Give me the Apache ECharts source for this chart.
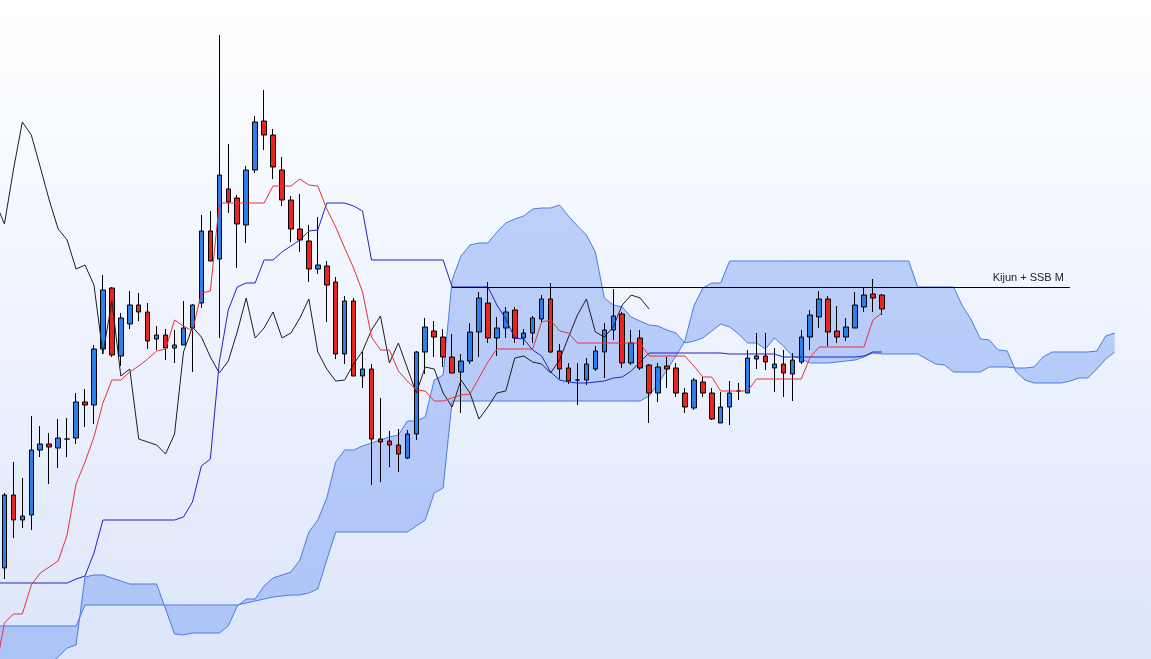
<!DOCTYPE html>
<html><head><meta charset="utf-8">
<script src="https://cdn.jsdelivr.net/npm/echarts@6/dist/echarts.min.js"></script>
<style>html,body{margin:0;padding:0;width:1151px;height:659px;overflow:hidden;background:#eef3fe;position:relative}#c{position:absolute;left:-9px;top:0;width:1160px;height:659px}</style>
</head><body><div id="c"></div>
<script>
// ---- data (index -1 is an off-screen leading period) ----
// candles for periods 0..98 : [open, close, low, high]
const candles = [
[13.2,20.5,12.1,20.7],[20.5,18.0,16.2,23.8],[18.0,18.4,17.2,22.2],[18.5,25.0,17.0,28.4],[25.0,25.6,24.3,27.4],
[25.6,25.3,21.6,26.7],[25.2,26.2,23.2,28.1],[26.1,26.1,24.3,28.2],[26.2,29.8,25.6,30.7],[29.8,29.5,27.3,31.1],
[29.5,35.1,27.6,35.5],[35.1,41.0,34.6,42.5],[41.2,34.5,34.3,41.3],[34.4,38.2,33.4,38.7],[37.6,39.5,37.1,40.9],
[39.5,38.8,37.9,40.7],[38.8,35.9,35.1,39.7],[36.1,36.5,35.0,37.4],[36.5,35.2,34.0,37.1],[35.2,35.5,33.7,37.0],
[35.5,37.2,35.5,39.9],[37.2,39.5,32.8,39.6],[39.7,46.9,39.2,48.5],[46.9,43.9,43.9,48.9],[44.1,52.5,36.2,66.5],
[51.1,49.8,48.7,55.6],[50.2,47.6,43.2,50.5],[47.5,53.0,45.7,53.4],[53.0,57.8,52.7,58.4],[57.9,56.5,55.0,61.0],
[56.5,53.3,52.1,57.1],[53.0,50.0,49.4,54.3],[50.0,47.1,45.8,50.4],[47.1,46.0,44.8,50.6],[45.9,43.1,41.8,47.5],
[43.1,43.5,42.6,48.3],[43.4,41.5,37.8,43.9],[41.8,34.6,34.1,42.3],[34.6,39.9,33.6,40.4],[39.9,32.4,32.4,40.2],
[32.4,33.1,31.2,34.8],[33.1,26.1,21.5,33.6],[26.1,25.8,21.8,30.2],[25.9,25.5,23.3,26.9],[25.5,24.6,22.8,27.1],
[24.2,26.6,24.1,27.0],[26.6,34.8,26.0,34.9],[34.8,37.3,32.6,38.2],[36.9,36.3,34.3,37.9],[36.3,34.3,33.3,37.1],
[34.3,32.7,32.7,36.6],[32.8,33.9,28.7,34.6],[33.9,36.8,33.6,37.7],[36.8,40.2,34.3,40.8],[39.7,36.2,35.7,41.8],
[36.2,37.2,34.4,38.3],[37.2,38.8,36.2,39.3],[39.0,36.2,35.7,39.3],[36.2,36.7,35.5,37.1],[36.7,38.2,35.7,38.4],
[38.1,40.1,37.7,40.5],[40.1,34.8,34.7,41.7],[34.9,33.1,32.1,35.6],[33.2,31.9,31.6,33.7],[32.0,32.0,29.5,33.7],
[32.0,33.6,31.5,34.2],[33.1,34.9,32.9,35.4],[34.8,37.0,32.2,37.7],[37.0,38.4,36.0,41.1],[38.6,33.7,33.2,38.8],
[33.7,35.7,33.5,37.0],[36.2,33.2,33.0,37.0],[33.5,30.7,27.7,33.6],[30.7,33.3,29.8,33.7],[33.4,33.1,31.2,34.3],
[33.2,30.7,30.3,33.7],[30.7,29.3,28.7,31.2],[29.2,32.0,29.0,32.2],[31.8,30.7,30.3,32.3],[30.7,28.1,28.0,31.2],
[27.7,29.3,27.7,30.8],[29.3,30.7,27.5,31.9],[30.9,30.9,30.0,31.7],[30.7,34.2,30.7,35.0],[34.1,34.4,33.1,36.7],
[34.4,33.8,33.0,36.7],[33.2,33.6,30.8,35.2],[33.6,32.7,30.3,35.0],[32.6,34.0,29.9,34.7],[33.8,36.3,33.6,37.0],
[36.3,38.5,35.0,39.0],[38.3,40.1,37.2,40.9],[40.1,36.8,35.4,40.4],[36.9,36.3,35.7,39.4],[36.3,37.3,35.9,38.2],
[37.2,39.5,37.2,40.8],[39.3,40.5,38.8,41.2],[40.6,40.2,38.8,42.1],[40.5,39.1,38.5,40.6]
];
// Tenkan-sen, periods -1..98
const tenkan = [
2.9,7.7,8.6,8.6,11.5,12.7,13.3,13.9,16.5,21.6,
23.8,26.3,29.7,32.0,32.0,32.8,33.4,34.1,34.9,35.1,
38.0,37.4,36.9,40.7,40.9,49.7,49.7,49.7,49.7,49.7,
49.7,51.4,51.4,51.4,52.1,51.5,51.4,49.1,47.3,45.2,
43.2,40.8,36.3,35.0,35.0,32.9,31.9,31.0,30.9,29.9,
29.9,30.2,30.5,30.6,32.2,33.8,35.1,35.1,35.1,35.1,
35.1,37.8,38.0,36.9,36.7,35.7,35.7,35.7,35.7,35.7,
35.7,35.7,35.7,34.4,34.4,34.4,34.4,34.4,33.4,32.3,
32.3,30.9,30.9,30.9,30.9,32.1,32.1,32.1,32.1,32.1,
32.1,34.3,35.3,35.3,35.3,35.3,35.3,35.3,38.0,38.7
];
// Kijun-sen, periods -1..98
const kijun = [
11.7,11.7,11.7,11.7,11.7,11.7,11.7,11.7,11.7,12.1,
12.4,14.7,18.0,18.0,18.0,18.0,18.0,18.0,18.0,18.0,
18.0,18.3,19.8,23.4,24.1,33.8,39.0,41.3,41.7,41.7,
44.0,44.0,44.8,45.4,46.0,46.9,47.0,49.7,49.7,49.7,
49.4,48.9,44.0,44.0,44.0,44.0,44.0,44.0,44.0,44.0,
44.0,41.3,41.3,41.3,41.3,41.3,39.5,38.1,36.2,36.1,
35.0,34.4,32.8,32.0,31.8,31.7,31.7,31.8,31.9,32.2,
32.3,32.9,33.8,34.7,34.7,34.7,34.7,34.7,34.7,34.7,
34.7,34.7,34.6,34.6,34.6,34.6,34.6,34.6,34.3,34.3,
34.3,34.3,34.3,34.3,34.3,34.3,34.3,34.4,34.8,34.8
];
// Chikou span, periods -1..72
const chikou = [
49.8,47.6,53.0,57.8,56.5,53.3,50.0,47.1,46.0,43.1,
43.5,41.5,34.6,39.9,32.4,33.1,26.1,25.8,25.5,24.6,
26.6,34.8,37.3,36.3,34.3,32.7,33.9,36.8,40.2,36.2,
37.2,38.8,36.2,36.7,38.2,40.1,34.8,33.1,31.9,32.0,
33.6,34.9,37.0,38.4,33.7,35.7,33.2,30.7,33.3,33.1,
30.7,29.3,32.0,30.7,28.1,29.3,30.7,30.9,34.2,34.4,
33.8,33.6,32.7,34.0,36.3,38.5,40.1,36.8,36.3,37.3,
39.5,40.5,40.2,39.1
];
// Senkou span A, periods -1..124
const senkouA = [
2.2,2.4,2.6,2.8,3.0,3.2,3.6,4.3,5.2,5.5,
12.3,12.5,12.5,12.2,11.9,11.6,11.6,11.6,11.6,9.1,
6.6,6.5,6.7,6.7,6.7,6.7,7.4,9.4,10.1,10.1,
11.4,12.2,12.5,12.8,14.0,16.8,18.0,20.2,23.8,25.0,
25.0,25.4,25.7,26.0,26.3,26.5,27.9,27.9,28.3,32.0,
32.5,42.0,44.4,45.5,45.7,45.7,46.8,47.7,48.1,48.4,
49.1,49.2,49.2,49.5,48.4,47.4,46.5,44.8,40.2,39.5,
39.3,38.3,37.9,37.5,37.4,37.0,36.7,35.7,35.9,36.2,
36.9,37.6,37.3,36.6,35.7,35.7,35.1,36.2,35.4,34.4,
34.1,33.7,33.7,33.7,33.8,33.9,34.0,34.3,34.7,34.6,
34.6,34.6,34.6,34.6,34.1,33.6,33.5,32.8,32.8,32.8,
32.8,33.3,33.3,33.3,33.2,33.2,33.3,34.3,34.8,34.8,
34.8,34.8,34.8,34.9,36.4,36.7
];
// Senkou span B, periods -1..124
const senkouB = [
7.4,7.4,7.4,7.4,7.4,7.4,7.4,7.4,7.4,7.4,
9.5,9.5,9.5,9.5,9.5,9.5,9.5,9.5,9.5,9.5,
9.5,9.5,9.5,9.5,9.5,9.5,9.5,9.5,9.7,9.9,
10.1,10.3,10.4,10.5,10.5,10.7,11.1,14.0,16.8,16.8,
16.8,16.8,16.8,16.8,16.8,16.8,16.8,17.4,18.0,20.7,
21.2,29.9,29.9,29.9,29.9,29.9,29.9,29.9,29.9,29.9,
29.9,29.9,29.9,29.9,29.9,29.9,29.9,29.9,29.9,29.9,
29.9,29.9,29.9,30.4,31.6,33.0,34.4,35.9,39.4,41.2,
41.7,41.7,43.9,43.9,43.9,43.9,43.9,43.9,43.9,43.9,
43.9,43.9,43.9,43.9,43.9,43.9,43.9,43.9,43.9,43.9,
43.9,43.9,43.9,41.3,41.3,41.3,41.3,41.3,39.4,38.0,
36.1,36.0,35.0,34.9,32.8,32.0,31.7,31.7,31.7,31.7,
31.9,32.2,32.2,33.1,34.1,34.8
];
// horizontal level "Kijun + SSB M"
const levelValue = 41.3;
const levelFrom = 50, levelTo = 119;   // periods
const levelLabel = 'Kijun + SSB M';

// ---- build ----
const FIRST = -1, LAST = 127;
const cats = [];
for (let p = FIRST; p <= LAST; p++) cats.push('T' + p);
const pad = (arr, startPeriod) => {
  const out = new Array(cats.length).fill('-');
  arr.forEach((v, k) => { out[k + startPeriod - FIRST] = v; });
  return out;
};
const candleData = pad(candles, 0);
const tenkanData = pad(tenkan, -1);
const kijunData = pad(kijun, -1);
const chikouData = pad(chikou, -1);
const spanA = pad(senkouA, -1);
const spanB = pad(senkouB, -1);

const chart = echarts.init(document.getElementById('c'), null, {renderer: 'canvas'});
const lineBase = {type: 'line', symbol: 'none', showSymbol: false, connectNulls: false, silent: true, animation: false};
chart.setOption({
  animation: false,
  backgroundColor: {type: 'linear', x: 0, y: 0, x2: 0, y2: 1,
    colorStops: [{offset: 0, color: '#feffff'}, {offset: 0.5, color: '#eef3fe'}, {offset: 1, color: '#dce5fa'}]},
  grid: {left: 0, right: 5, top: 0, bottom: 0},
  xAxis: {type: 'category', data: cats, boundaryGap: true, show: false},
  yAxis: {type: 'value', min: 4.1, max: 70, show: false, splitLine: {show: false}},
  series: [
    {
      type: 'custom', z: 1, silent: true, clip: false,
      data: [[0, senkouA[0]]],
      encode: {x: 0, y: 1},
      renderItem: function (params, api) {
        const pts = [];
        for (let i = 0; i < senkouA.length; i++) pts.push(api.coord([i, senkouA[i]]));
        for (let i = senkouB.length - 1; i >= 0; i--) pts.push(api.coord([i, senkouB[i]]));
        return {type: 'polygon', shape: {points: pts}, style: {fill: 'rgba(96,142,242,0.38)', stroke: null}};
      }
    },
    Object.assign({}, lineBase, {name: 'Senkou A', z: 2, data: spanA, lineStyle: {color: '#4d7be2', width: 1}}),
    Object.assign({}, lineBase, {name: 'Senkou B', z: 2, data: spanB, lineStyle: {color: '#4d7be2', width: 1}}),
    {
      type: 'candlestick', z: 3, silent: true, barWidth: 5,
      data: candleData,
      itemStyle: {color: '#2a80ea', color0: '#ea2420', borderColor: '#000', borderColor0: '#000', borderColorDoji: '#000', borderWidth: 1}
    },
    Object.assign({}, lineBase, {name: 'Chikou', z: 4, data: chikouData, lineStyle: {color: '#1e1e1e', width: 1}}),
    Object.assign({}, lineBase, {name: 'Kijun', z: 4, data: kijunData, lineStyle: {color: '#2222c4', width: 1},
      markLine: {
        silent: true, symbol: ['none', 'none'], animation: false,
        lineStyle: {color: '#000', width: 1, type: 'solid'},
        label: {show: true, position: 'insideEndTop', formatter: levelLabel, color: '#222', fontSize: 11,
          fontFamily: 'Liberation Sans, Arial, sans-serif', distance: [6, 4]},
        data: [[{coord: ['T' + levelFrom, levelValue]}, {coord: ['T' + levelTo, levelValue]}]]
      }}),
    Object.assign({}, lineBase, {name: 'Tenkan', z: 5, data: tenkanData, lineStyle: {color: '#ea3038', width: 1}})
  ]
});
</script></body></html>
